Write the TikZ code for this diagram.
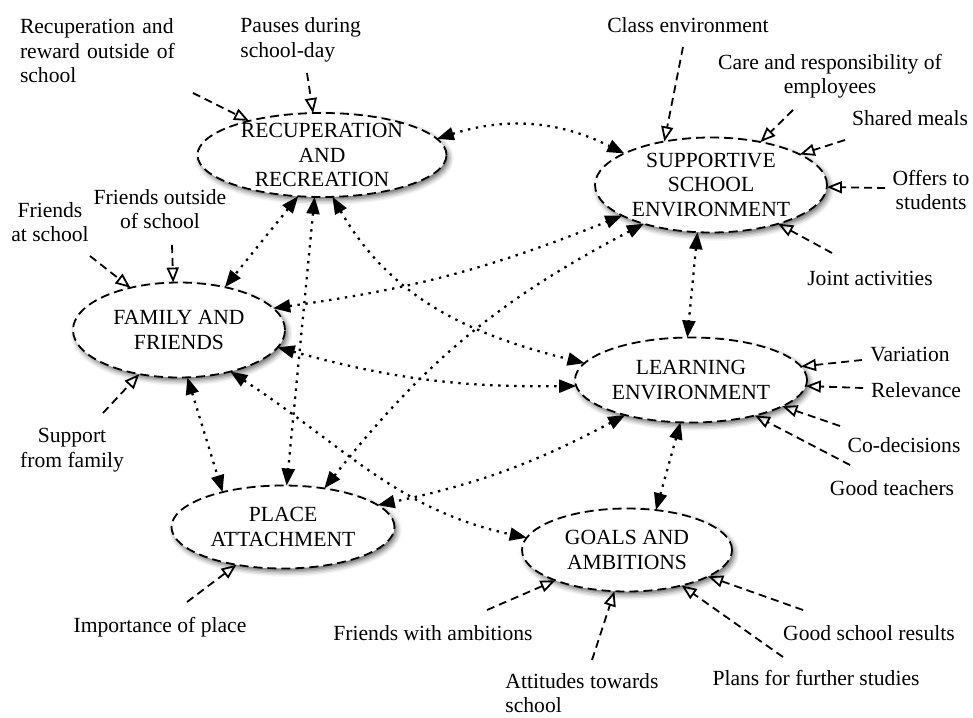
\documentclass[tikz,border=0pt]{standalone}
\usepackage{fontspec}
\setmainfont{Liberation Serif}
\usetikzlibrary{shapes.geometric,arrows.meta,shadows.blur}
\begin{document}
\begin{tikzpicture}[x=0.5pt,y=0.5pt,
  ell/.style={ellipse, draw, fill=white, line width=0.9pt, dash pattern=on 4.5pt off 2.5pt,
    inner sep=0pt, outer sep=0pt,
    blur shadow={shadow xshift=1.2pt, shadow yshift=-1.6pt, shadow blur radius=2.5pt, shadow opacity=60}},
  etxt/.style={font=\fontsize{10.8}{12.2}\selectfont, align=center, inner sep=0pt},
  lbl/.style={font=\fontsize{10.8}{12.2}\selectfont, align=center, inner sep=0pt},
  infl/.style={line width=0.9pt, dash pattern=on 4pt off 2.5pt, -{Triangle[open,length=7.5pt,width=6pt]}},
  link/.style={line width=1.15pt, dash pattern=on 1.2pt off 2.8pt,
    {Triangle[length=8.5pt,width=6.5pt]}-{Triangle[length=8.5pt,width=6.5pt]}}
]
\useasboundingbox (0,0) rectangle (973,-717);

% ellipses
\node[ell, minimum width=124.5pt, minimum height=42pt] (R) at (322,-155) {};
\node[ell, minimum width=116pt, minimum height=47.5pt] (S) at (711,-185) {};
\node[ell, minimum width=106pt, minimum height=47.5pt] (F) at (179,-330) {};
\node[ell, minimum width=116pt, minimum height=42.5pt] (L) at (691,-380) {};
\node[ell, minimum width=111.5pt, minimum height=41.5pt] (P) at (283,-527) {};
\node[ell, minimum width=105pt, minimum height=41.5pt] (G) at (627,-550) {};

\node[etxt] (Rt) at (R) {RECUPERATION\\AND\\RECREATION};
\node[etxt] (St) at (S) {SUPPORTIVE\\SCHOOL\\ENVIRONMENT};
\node[etxt] (Ft) at (F) {FAMILY AND\\FRIENDS};
\node[etxt] (Lt) at (L) {LEARNING\\ENVIRONMENT};
\node[etxt] (Pt) at (P) {PLACE\\ATTACHMENT};
\node[etxt] (Gt) at (G) {GOALS AND\\AMBITIONS};

% labels
\node[lbl, text width=81.5pt, align=left] (t1) at (101.5,-51)
  {\makebox[81.5pt][s]{Recuperation and}\\\makebox[81.5pt][s]{reward outside of}\\school};
\node[lbl, align=left, anchor=west] (t2) at (240,-40) {Pauses during\\school-day};
\node[lbl] (t3) at (688,-25) {Class environment};
\node[lbl] (t4) at (830,-76) {Care and responsibility of\\employees};
\node[lbl] (t5) at (910,-118) {Shared meals};
\node[lbl] (t6) at (931,-190) {Offers to\\students};
\node[lbl] (t7) at (870,-278) {Joint activities};
\node[lbl] (t8) at (50,-222) {Friends\\at school};
\node[lbl] (t9) at (160,-209) {Friends outside\\of school};
\node[lbl] (t10) at (72,-450) {Support\\from family};
\node[lbl] (t11) at (910,-355) {Variation};
\node[lbl] (t12) at (916,-390) {Relevance};
\node[lbl] (t13) at (904,-445) {Co-decisions};
\node[lbl] (t14) at (892,-488) {Good teachers};
\node[lbl] (t15) at (160,-627) {Importance of place};
\node[lbl] (t16) at (433,-633) {Friends with ambitions};
\node[lbl, align=left, anchor=west] (t17) at (505,-693) {Attitudes towards\\school};
\node[lbl] (t18) at (816,-678) {Plans for further studies};
\node[lbl] (t19) at (869,-633) {Good school results};

% free ends of the influence arrows
\coordinate (s1) at (193,-93);
\coordinate (s2) at (307,-73);
\coordinate (s3) at (683,-47);
\coordinate (s4) at (793,-110);
\coordinate (s5) at (845,-140);
\coordinate (s6) at (885,-188);
\coordinate (s7) at (832,-253);
\coordinate (s8) at (90,-256);
\coordinate (s9) at (172,-245);
\coordinate (s10) at (103,-413);
\coordinate (s11) at (862,-360);
\coordinate (s12) at (863,-388);
\coordinate (s13) at (840,-426);
\coordinate (s14) at (850,-465);
\coordinate (s15) at (187,-602);
\coordinate (s16) at (487,-610);
\coordinate (s17) at (592,-660);
\coordinate (s18) at (783,-657);
\coordinate (s19) at (803,-610);

\draw[infl] (s1) -- (R.155);
\draw[infl] (s2) -- (R.102);
\draw[infl] (s3) -- (S.137);
\draw[infl] (s4) -- (S.41);
\draw[infl] (s5) -- (S.19);
\draw[infl] (s6) -- (S.-1);
\draw[infl] (s7) -- (S.-30);
\draw[infl] (s8) -- (F.139);
\draw[infl] (s9) -- (F.97);
\draw[infl] (s10) -- (F.-132);
\draw[infl] (s11) -- (L.7);
\draw[infl] (s12) -- (L.-3);
\draw[infl] (s13) -- (L.-16);
\draw[infl] (s14) -- (L.-29);
\draw[infl] (s15) -- (P.-141);
\draw[infl] (s16) -- (G.-157);
\draw[infl] (s17) -- (G.-107);
\draw[infl] (s18) -- (G.-33);
\draw[infl] (s19) -- (G.-18);

% dotted two-way links
\draw[link] (R.8) to[bend left=22] (S.160);
\draw[link] (R.-120) -- (F.43);
\draw[link] (R.-100) -- (P.85);
\draw[link] (R.-76) to[out=-60,in=166] (L.171);
\draw[link] (F.13) to[bend right=7] (S.-161);
\draw[link] (F.-10) to[bend right=8] (L.-177);
\draw[link] (F.-39) to[out=-33,in=168] (G.173);
\draw[link] (S.-150) to[bend right=12] (P.43);
\draw[link] (S.-106) -- (L.95);
\draw[link] (L.-152) to[bend left=8] (P.13);
\draw[link] (L.-104) -- (G.54);
\draw[link] (F.-80) -- (P.150);
\end{tikzpicture}
\end{document}
